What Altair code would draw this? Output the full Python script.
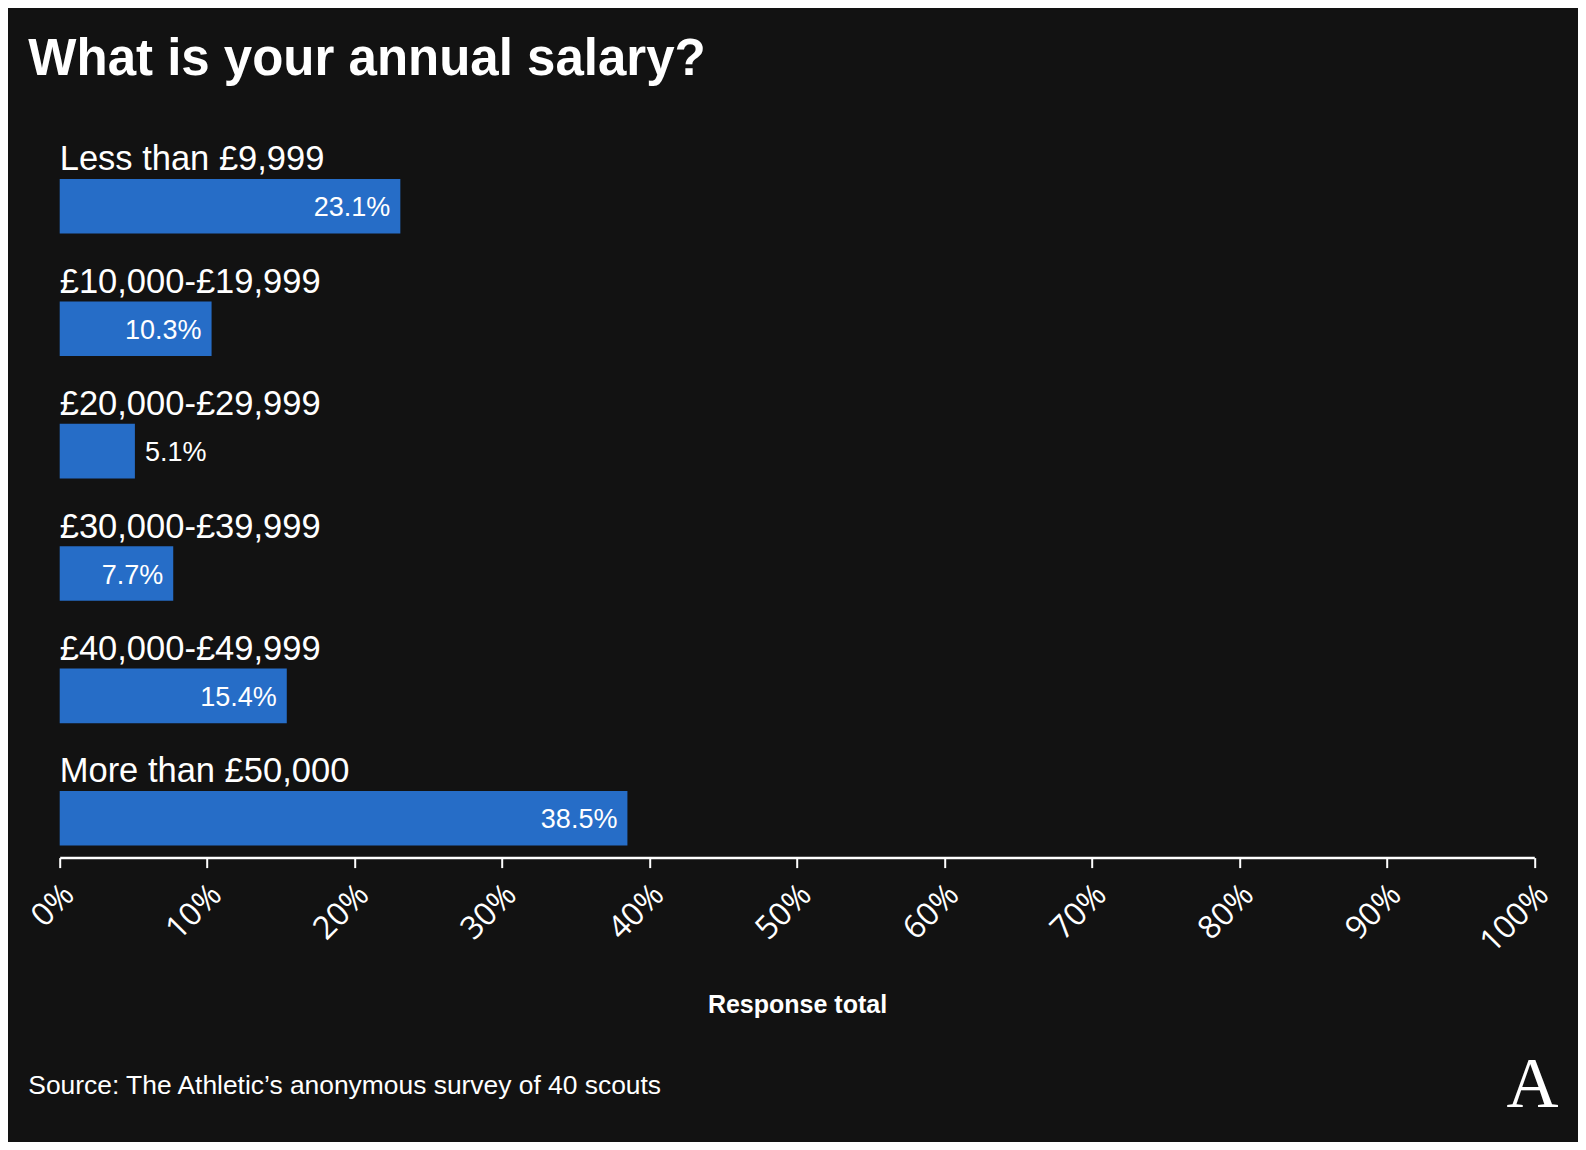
import altair as alt
import pandas as pd

# ---- data ----
categories = [
    "Less than £9,999",
    "£10,000-£19,999",
    "£20,000-£29,999",
    "£30,000-£39,999",
    "£40,000-£49,999",
    "More than £50,000",
]
values = [23.1, 10.3, 5.1, 7.7, 15.4, 38.5]
value_labels = ["23.1%", "10.3%", "5.1%", "7.7%", "15.4%", "38.5%"]
tick_values = [0, 10, 20, 30, 40, 50, 60, 70, 80, 90, 100]

title_text = "What is your annual salary?"
axis_title = "Response total"
source_text = "Source: The Athletic\u2019s anonymous survey of 40 scouts"
logo_text = "A"

df = pd.DataFrame({"category": categories, "value": values, "label": value_labels})
df["inside"] = df["value"] >= 7

# ---- style ----
BG = "#121212"
BAR = "#266dc7"
FONT = "Liberation Sans"

W = 1474.6
H = 734.4
BAR_SIZE = 54.6
BAR_OFF = 21.9

y_enc = alt.Y(
    "category:N",
    sort=categories,
    axis=None,
    scale=alt.Scale(paddingInner=0, paddingOuter=0),
)
x_scale = alt.Scale(domain=[0, 100], nice=False)

base = alt.Chart(df)

bars = base.mark_bar(color=BAR, size=BAR_SIZE, yOffset=BAR_OFF).encode(
    x=alt.X(
        "value:Q",
        scale=x_scale,
        axis=alt.Axis(
            values=tick_values,
            labelExpr="datum.value + '%'",
            labelAngle=-45,
            labelAlign="right",
            labelBaseline="top",
            labelFontSize=32,
            labelFont="Open Sans",
            labelFontWeight=400,
            labelColor="white",
            labelPadding=11,
            labelOffset=-2,
            labelFlush=False,
            labelOverlap=False,
            domainColor="white",
            domainWidth=2.5,
            tickColor="white",
            tickWidth=2,
            tickSize=10,
            grid=False,
            title=axis_title,
            titleFont=FONT,
            titleFontSize=25,
            titleFontWeight="bold",
            titleColor="white",
            titleBaseline="middle",
            titleY=146.4,
        ),
    ),
    y=y_enc,
)

cat_labels = base.mark_text(
    align="left", baseline="middle", color="white", font=FONT, fontSize=34.5, dy=-24
).encode(x=alt.datum(0, scale=x_scale), y=y_enc, text="category:N")

inside_labels = base.transform_filter("datum.inside").mark_text(
    align="right", baseline="middle", color="white", font=FONT, fontSize=27,
    dx=-10, dy=BAR_OFF + 2,
).encode(x=alt.X("value:Q", scale=x_scale), y=y_enc, text="label:N")

outside_labels = base.transform_filter("!datum.inside").mark_text(
    align="left", baseline="middle", color="white", font=FONT, fontSize=27,
    dx=10, dy=BAR_OFF + 2,
).encode(x=alt.X("value:Q", scale=x_scale), y=y_enc, text="label:N")

source = alt.Chart(pd.DataFrame({"t": [source_text]})).mark_text(
    align="left", baseline="middle", color="white", font=FONT, fontSize=26.4
).encode(text="t:N", x=alt.value(-31.4), y=alt.value(962.8))

logo = alt.Chart(pd.DataFrame({"t": [logo_text]})).mark_text(
    align="center", baseline="middle", color="white", font="Liberation Serif",
    fontSize=72,
).encode(text="t:N", x=alt.value(1472.8), y=alt.value(961.3))

chart = (
    alt.layer(bars, cat_labels, inside_labels, outside_labels, source, logo)
    .properties(
        width=W,
        height=H,
        title=alt.Title(
            title_text,
            anchor="start",
            font=FONT,
            fontSize=51,
            fontWeight="bold",
            color="white",
            offset=37,
            dx=3,
        ),
        autosize=alt.AutoSizeParams(type="none"),
        padding={"left": 51.7, "top": 115.2, "right": 43.7, "bottom": 284.4},
        background=BG,
    )
    .configure_view(stroke=None)
)

chart.save("out.html", embed_options={"renderer": "svg", "actions": False})
